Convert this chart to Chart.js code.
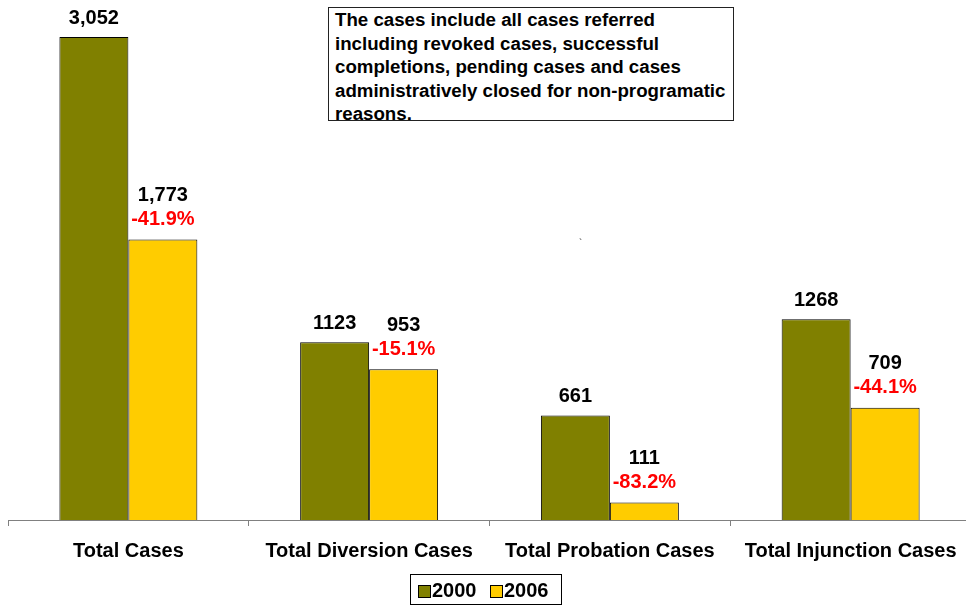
<!DOCTYPE html>
<html>
<head>
<meta charset="utf-8">
<script src="https://cdn.jsdelivr.net/npm/chart.js@4/dist/chart.umd.min.js"></script>
<style>
  html, body { margin: 0; padding: 0; background: #fff; overflow: hidden; }
  #wrap { position: relative; width: 966px; height: 606px; overflow: hidden; }
  #c { position: absolute; left: 0; top: 0; }
  #note {
    position: absolute; left: 328px; top: 7px; width: 398px; height: 112px;
    border: 1px solid #222; background: #fff; overflow: hidden;
    font-family: "Liberation Sans", Arial, sans-serif; font-weight: bold;
    font-size: 18.7px; line-height: 23.6px; color: #000; padding: 0 0 0 6px;
    white-space: nowrap;
  }
  #tick { position: absolute; left: 579px; top: 238px; font: 10px "Liberation Sans", Arial, sans-serif; color: #333; }
</style>
</head>
<body>
<div id="wrap">
  <canvas id="c" width="976" height="606"></canvas>
  <div id="note">The cases include all cases referred<br>including revoked cases, successful<br>completions, pending cases and cases<br>administratively closed for non-programatic<br>reasons.</div>
  <div id="tick">`</div>
</div>
<script>
const categories = ["Total Cases", "Total Diversion Cases", "Total Probation Cases", "Total Injunction Cases"];
const seriesNames = ["2000", "2006"];
const values2000 = [3052, 1123, 661, 1268];
const values2006 = [1773, 953, 111, 709];
const labels2000 = ["3,052", "1123", "661", "1268"];
const labels2006 = ["1,773", "953", "111", "709"];
const pctLabels = ["-41.9%", "-15.1%", "-83.2%", "-44.1%"];

const FONT = '"Liberation Sans", Arial, sans-serif';
const colors = ["#808000", "#FFCC00"];

const labelPlugin = {
  id: 'labelPlugin',
  afterDatasetsDraw(chart) {
    const ctx = chart.ctx;
    ctx.save();
    ctx.textAlign = 'center';
    ctx.textBaseline = 'middle';
    ctx.font = 'bold 20px ' + FONT;
    const m0 = chart.getDatasetMeta(0), m1 = chart.getDatasetMeta(1);
    m0.data.forEach((bar, i) => {
      ctx.fillStyle = '#000';
      ctx.fillText(labels2000[i], bar.x, bar.y - 19);
    });
    m1.data.forEach((bar, i) => {
      ctx.fillStyle = '#000';
      ctx.fillText(labels2006[i], bar.x, bar.y - 44);
      ctx.fillStyle = '#FF0000';
      ctx.fillText(pctLabels[i], bar.x, bar.y - 20);
    });
    // legend
    ctx.strokeStyle = '#000';
    ctx.lineWidth = 1;
    ctx.strokeRect(410.5, 574.5, 151, 30);
    const items = [{x: 418}, {x: 490}];
    items.forEach((it, i) => {
      ctx.fillStyle = colors[i];
      ctx.fillRect(it.x + 0.5, 585.5, 12, 12);
      ctx.strokeRect(it.x + 0.5, 585.5, 12, 12);
      ctx.fillStyle = '#000';
      ctx.textAlign = 'left';
      ctx.fillText(chart.data.datasets[i].label, it.x + 14, 591);
    });
    ctx.restore();
  }
};

new Chart(document.getElementById('c'), {
  type: 'bar',
  data: {
    labels: categories,
    datasets: [
      { label: seriesNames[0], data: values2000, backgroundColor: colors[0], borderColor: '#000', borderWidth: 1, categoryPercentage: 0.573, barPercentage: 1.0 },
      { label: seriesNames[1], data: values2006, backgroundColor: colors[1], borderColor: '#000', borderWidth: 1, categoryPercentage: 0.573, barPercentage: 1.0 }
    ]
  },
  options: {
    responsive: false,
    animation: false,
    devicePixelRatio: 1,
    layout: { padding: { left: 8, right: 5, top: 37, bottom: 30 } },
    plugins: { legend: { display: false }, tooltip: { enabled: false } },
    scales: {
      x: {
        offset: true,
        grid: { display: true, drawOnChartArea: false, drawTicks: true, tickLength: 6, color: '#808080', offset: true, lineWidth: 1 },
        border: { display: true, color: '#808080', width: 1 },
        ticks: { font: { family: FONT, weight: 'bold', size: 20 }, color: '#000', padding: 13, maxRotation: 0, autoSkip: false }
      },
      y: {
        display: false,
        min: 0,
        max: Math.max(...values2000, ...values2006)
      }
    }
  },
  plugins: [labelPlugin]
});
</script>
</body>
</html>
